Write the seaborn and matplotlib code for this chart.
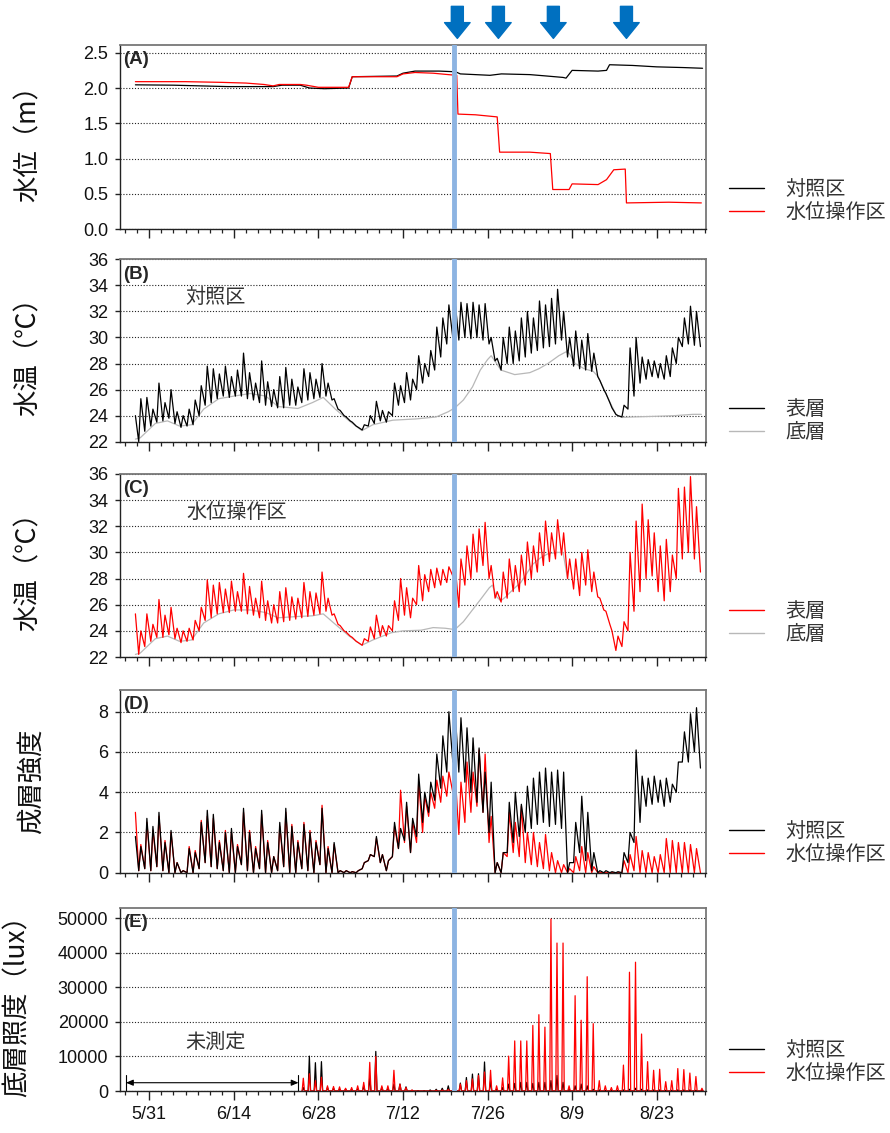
import numpy as np
import pandas as pd
import matplotlib
matplotlib.use("Agg")
import matplotlib.pyplot as plt
import matplotlib.dates as mdates
from matplotlib.lines import Line2D
from matplotlib.ticker import FuncFormatter, FormatStrFormatter
import seaborn as sns

sns.set_theme(style="white")
plt.rcParams["font.family"] = ["Liberation Sans", "Noto Sans CJK JP", "DejaVu Sans"]
CJK = ["Noto Sans CJK JP", "DejaVu Sans"]

# ---------------- data (day index 0 = 5/29) ----------------
BASE = pd.Timestamp("2021-05-29")
START_DAY = -0.3

# (A) water level, step series
A_CTRL_DAY = [-0.3, 6, 15, 22.5, 24, 27, 28.5, 31, 35.0, 35.6, 43, 44, 46, 50, 52.7, 53.5,
              58.4, 60.3, 65, 67.8, 70.5, 71.0, 72.0, 76.3, 77.7, 78.2, 82, 86, 90.4, 93.6]
A_CTRL_LVL = [2.045, 2.04, 2.02, 2.02, 2.04, 2.04, 2.0, 1.99, 2.0, 2.16, 2.17, 2.21, 2.24, 2.24,
              2.23, 2.20, 2.18, 2.20, 2.19, 2.17, 2.15, 2.14, 2.25, 2.24, 2.25, 2.33, 2.32, 2.30,
              2.29, 2.28]
A_TRT_DAY = [-0.3, 8, 14, 18, 21, 22.5, 23.5, 27, 28, 30, 35.0, 35.6, 43, 44, 46, 49, 51.5,
             52.9, 53.1, 56, 59.6, 60.0, 65, 68.4, 68.8, 70.5, 71.5, 72.0, 76.3, 77.7, 78.9,
             80.8, 81.0, 88, 93.4]
A_TRT_LVL = [2.09, 2.09, 2.08, 2.07, 2.05, 2.03, 2.05, 2.05, 2.04, 2.01, 2.01, 2.16, 2.16,
             2.20, 2.22, 2.21, 2.19, 2.18, 1.63, 1.62, 1.59, 1.09, 1.09, 1.07, 0.56, 0.56,
             0.56, 0.64, 0.63, 0.70, 0.84, 0.85, 0.37, 0.38, 0.37]

# (B) control: surface daily troughs/peaks, bottom
B_SURF_START = 24.0
B_SURF_TROUGH = [22.0, 22.8, 23.2, 23.5, 23.6, 23.8, 23.4, 23.1, 23.2, 23.3,
                 24.0, 24.8, 25.0, 25.3, 25.5, 25.4, 25.5, 25.5, 25.3, 25.2,
                 25.0, 24.8, 24.7, 24.6, 24.6, 24.8, 24.8, 25.0, 25.2, 25.3,
                 25.4, 25.5, 25.2, 24.5, 24.0, 23.6, 23.2, 22.9, 23.2, 23.4,
                 23.6, 23.5, 24.0, 24.8, 25.0, 25.2, 26.0, 26.5, 27.0, 27.5,
                 28.5, 29.5, 30.0, 29.8, 30.0, 29.9, 30.0, 29.8, 29.5, 28.2,
                 27.5, 28.0, 28.0, 28.2, 28.5, 28.8, 29.0, 29.2, 29.3, 29.5,
                 29.8, 28.5, 27.8, 27.6, 27.5, 27.4, 27.0, 26.0, 25.0, 24.1,
                 23.9, 24.5, 25.5, 26.5, 26.8, 27.0, 26.9, 26.8, 27.0, 28.0,
                 29.3, 29.5, 29.4, 29.3]
B_SURF_PEAK = [25.3, 25.4, 24.5, 26.5, 25.0, 26.0, 24.3, 24.0, 24.5, 25.2,
               26.3, 27.8, 27.6, 27.2, 27.8, 27.0, 27.5, 28.8, 27.3, 26.5,
               28.2, 26.6, 26.0, 27.0, 27.7, 26.8, 26.2, 27.6, 27.3, 26.8,
               28.0, 26.5, 25.3, 24.4, 23.9, 23.5, 23.1, 23.3, 24.0, 25.1,
               24.4, 24.3, 26.5, 26.3, 27.3, 26.8, 28.6, 28.0, 29.0, 30.8,
               31.5, 32.5, 32.9, 32.7, 32.6, 32.7, 32.5, 32.6, 30.0, 28.4,
               30.0, 30.8, 30.5, 31.5, 32.0, 31.5, 32.8, 32.5, 33.0, 33.7,
               32.0, 30.0, 30.5, 29.8, 30.3, 28.8, 26.7, 25.7, 24.6, 24.0,
               24.8, 29.2, 30.0, 28.5, 28.3, 28.2, 28.0, 28.6, 29.2, 30.0,
               31.5, 32.4, 32.0]
B_BOT_DAY = [-0.3, 0.5, 3, 5, 7, 9, 11, 13.5, 16, 18.7, 21.3, 23.3, 26.6, 29, 30.8, 32.8,
             35.1, 37.2, 39, 42.3, 46.2, 49.5, 51.5, 52.6, 54, 55.5, 56.8, 58, 58.6, 59.5,
             60.2, 62.5, 65, 66.5, 68, 69.8, 71, 71.5, 72.5, 74, 75.5, 76.3, 77.3, 78.3,
             79.3, 80.3, 82, 86, 89, 92, 93.4]
B_BOT_T = [22.2, 22.3, 23.4, 23.6, 23.2, 23.3, 24.5, 25.3, 25.5, 25.7, 25.5, 24.7, 24.55,
           25.0, 25.4, 24.5, 23.6, 22.85, 23.3, 23.65, 23.75, 23.9, 24.3, 24.6, 25.2, 26.2,
           27.5, 28.3, 28.6, 28.0, 27.5, 27.15, 27.3, 27.6, 28.0, 28.6, 28.9, 28.8, 28.0,
           27.6, 27.4, 27.0, 26.0, 25.0, 24.05, 23.86, 23.9, 23.95, 24.0, 24.1, 24.1]

# (C) water-level-managed: surface, bottom
C_SURF_START = 25.3
C_SURF_TROUGH = [22.2, 22.8, 23.2, 23.5, 23.5, 23.7, 23.4, 23.1, 23.2, 23.3,
                 24.0, 24.8, 25.0, 25.3, 25.4, 25.4, 25.5, 25.5, 25.3, 25.2,
                 25.0, 24.8, 24.6, 24.6, 24.7, 24.8, 24.9, 25.0, 25.1, 25.2,
                 25.3, 25.5, 25.2, 24.5, 24.0, 23.6, 23.2, 22.9, 23.2, 23.4,
                 23.6, 23.6, 24.0, 24.8, 25.2, 25.0, 26.0, 26.3, 27.0, 27.3,
                 27.5, 27.7, 28.2, 25.8, 27.5, 28.0, 28.5, 29.0, 28.0, 26.5,
                 26.2, 26.5, 27.0, 27.0, 27.5, 28.0, 28.5, 29.0, 29.3, 29.5,
                 29.8, 28.0, 27.2, 26.7, 27.5, 27.0, 26.6, 25.6, 24.5, 22.5,
                 22.8, 24.0, 25.5, 27.0, 28.0, 28.2, 27.0, 26.3, 27.0, 28.0,
                 29.5, 30.0, 29.5, 28.5]
C_SURF_PEAK = [24.0, 25.3, 24.5, 26.4, 25.2, 25.8, 24.2, 24.0, 24.2, 24.8,
               25.8, 27.9, 27.5, 27.7, 27.2, 27.8, 27.0, 28.4, 27.4, 26.5,
               27.8, 26.3, 26.0, 27.0, 27.3, 26.6, 26.5, 27.7, 27.0, 26.9,
               28.5, 26.5, 25.3, 24.4, 23.9, 23.5, 23.1, 23.4, 24.3, 25.2,
               24.4, 24.4, 26.3, 28.0, 27.3, 26.5, 29.0, 28.3, 28.7, 28.8,
               28.7, 28.9, 29.2, 29.5, 30.5, 31.4, 31.8, 32.3, 29.0, 27.0,
               28.5, 29.5, 29.0, 29.8, 30.8, 30.5, 31.5, 32.4, 31.5, 32.5,
               31.5, 29.5, 29.5, 30.0, 30.2, 28.5, 26.5, 25.5, 24.0, 23.6,
               24.7, 30.0, 32.4, 33.7, 32.5, 31.5, 30.5, 31.0, 29.8, 34.9,
               35.0, 35.8, 33.5]
C_BOT_DAY = [-0.3, 0.5, 3, 5, 7, 9, 11, 13.5, 16, 18.7, 21.3, 23.3, 26.6, 29, 30.8, 32.8,
             35.1, 37.2, 39, 42, 44, 47, 49, 51, 52.6, 54, 55.5, 57, 58.3, 58.8, 59.5,
             60.2, 61, 62.3, 63.5, 64.5, 65.5, 66.8, 68, 69.5, 70.5, 71.25]
C_BOT_T = [22.2, 22.3, 23.4, 23.6, 23.2, 23.3, 24.6, 25.3, 25.6, 25.6, 25.4, 25.0, 25.1,
           25.15, 25.3, 24.5, 23.6, 22.9, 23.3, 23.85, 24.0, 24.05, 24.25, 24.2, 24.1, 24.7,
           25.6, 26.5, 27.3, 27.5, 26.6, 26.3, 26.6, 27.2, 27.7, 28.4, 29.1, 29.6, 29.9,
           30.0, 30.0, 28.0]

# (D) stratification strength
D_CTRL_START = 1.8
D_CTRL_TROUGH = [0.1, 0.2, 0.1, 0.3, 0.1, 0.0, 0.0, 0.0, 0.0, 0.0,
                 0.2, 0.5, 0.3, 0.2, 0.1, 0.0, 0.0, 0.4, 0.1, 0.0,
                 0.2, 0.0, 0.0, 0.1, 0.3, 0.0, 0.0, 0.2, 0.1, 0.0,
                 0.4, 0.0, 0.0, 0.0, 0.0, 0.0, 0.0, 0.2, 0.6, 0.8,
                 0.5, 0.1, 0.8, 1.2, 1.6, 1.0, 1.8, 2.5, 3.0, 3.6,
                 4.2, 5.0, 5.5, 5.0, 4.5, 4.0, 3.5, 3.0, 2.0, 0.0,
                 0.0, 1.0, 1.5, 1.8, 2.0, 2.2, 2.4, 2.5, 2.3, 2.4,
                 2.2, 0.0, 0.5, 1.0, 0.6, 0.1, 0.0, 0.0, 0.0, 0.0,
                 0.0, 0.5, 1.5, 2.5, 3.3, 3.4, 3.5, 3.3, 3.5, 4.0,
                 5.5, 5.5, 6.0, 5.2]
D_CTRL_PEAK = [1.3, 2.7, 2.3, 3.0, 1.5, 2.1, 0.5, 0.1, 1.2, 1.0,
               2.5, 3.1, 2.9, 1.5, 2.0, 2.2, 1.3, 3.2, 2.0, 1.2,
               3.1, 1.5, 0.8, 2.5, 3.2, 2.3, 1.5, 2.4, 2.0, 1.5,
               3.2, 1.2, 1.5, 0.1, 0.1, 0.05, 0.1, 0.5, 0.9, 1.8,
               0.9, 0.6, 2.5, 2.2, 3.5, 2.7, 4.9, 4.0, 4.5, 5.9,
               6.8, 8.0, 8.2, 7.7, 7.2, 6.7, 6.2, 5.0, 4.5, 0.5,
               1.0, 3.5, 4.0, 3.4, 4.3, 4.7, 5.0, 5.2, 5.0, 5.1,
               5.0, 0.5, 2.5, 3.8, 3.0, 1.0, 0.1, 0.1, 0.05, 0.05,
               1.0, 2.0, 6.1, 4.8, 4.7, 4.8, 4.6, 4.7, 4.4, 5.5,
               7.0, 7.9, 8.2]
D_TRT_START = 3.0
D_TRT_TROUGH = [0.1, 0.2, 0.1, 0.3, 0.1, 0.0, 0.0, 0.0, 0.0, 0.0,
                0.2, 0.5, 0.3, 0.2, 0.1, 0.0, 0.0, 0.4, 0.1, 0.0,
                0.2, 0.0, 0.0, 0.1, 0.3, 0.0, 0.0, 0.2, 0.1, 0.0,
                0.4, 0.0, 0.0, 0.0, 0.0, 0.0, 0.0, 0.2, 0.6, 0.8,
                0.5, 0.1, 0.8, 1.2, 1.5, 1.0, 1.5, 2.0, 2.8, 3.2,
                3.5, 3.8, 4.0, 1.9, 2.5, 3.0, 3.3, 3.0, 1.5, 0.0,
                0.0, 0.8, 1.0, 0.8, 0.5, 0.4, 0.3, 0.2, 0.1, 0.0,
                0.0, 0.0, 0.0, 0.1, 0.0, 0.0, 0.0, 0.0, 0.0, 0.0,
                0.0, 0.0, 0.1, 0.0, 0.0, 0.0, 0.0, 0.0, 0.0, 0.0,
                0.0, 0.0, 0.0, 0.0]
D_TRT_PEAK = [1.4, 2.5, 2.1, 2.8, 1.6, 2.0, 0.5, 0.1, 1.3, 1.1,
              2.6, 2.8, 2.7, 1.6, 2.1, 2.0, 1.4, 3.0, 2.1, 1.3,
              2.9, 1.6, 0.8, 2.3, 3.0, 2.4, 1.6, 2.5, 2.1, 1.6,
              3.35, 1.3, 1.4, 0.1, 0.1, 0.05, 0.1, 0.5, 0.9, 1.7,
              0.9, 0.6, 2.3, 4.1, 3.3, 2.5, 4.5, 3.8, 4.0, 4.6,
              4.8, 5.0, 5.1, 4.5, 5.5, 5.0, 6.1, 5.9, 2.8, 0.5,
              1.0, 3.0, 2.5, 3.3, 2.0, 2.0, 1.5, 1.9, 1.0, 0.6,
              0.4, 0.2, 0.8, 1.3, 1.0, 0.3, 0.0, 0.0, 0.0, 0.0,
              0.6, 0.9, 1.8, 1.1, 1.0, 0.8, 0.9, 1.7, 1.6, 1.5,
              1.5, 1.4, 1.2]

# (E) bottom illuminance, daily midday peaks from day 27 (6/25)
E_FIRST_DAY = 27
E_TRT_PEAK = [3700, 5000, 3000, 4000, 1500, 1300, 1200, 800, 1000, 1500,
              2500, 8300, 10000, 1500, 1500, 6000, 2000, 1000, 300, 0,
              0, 0, 200, 300, 500, 1000, 2000, 3000, 3500, 4500,
              5500, 6000, 1500, 3800, 10100, 14500, 14500, 14500, 19000, 22100,
              18500, 49800, 42850, 42850, 1500, 27600, 20500, 33100, 19500, 3000,
              1500, 1000, 1500, 7500, 34400, 37300, 16500, 8500, 6000, 6300,
              2700, 3000, 6500, 6200, 5200, 4200, 800]
E_CTRL_PEAK = [1000, 10100, 8200, 8500, 1000, 800, 500, 500, 500, 700,
               1500, 4000, 11460, 1000, 800, 2000, 2000, 1200, 200, 100,
               100, 300, 500, 800, 1500, 2500, 2300, 3900, 4900, 5000,
               8400, 3000, 500, 1000, 2000, 2200, 2500, 2500, 2200, 2500,
               2500, 3000, 4500, 2500, 500, 1500, 2000, 1500, 500, 300,
               200, 200, 200, 300, 500, 800, 500, 300, 300, 300,
               200, 200, 300, 300, 300, 200, 200]

BLUE_LINE_DAY = 52.5
ARROW_DAYS = [53.0, 59.8, 68.9, 81.0]
NOT_MEASURED = (-1.85, 26.7)
MAJOR_TICK_DAYS = [2, 16, 30, 44, 58, 72, 86]
XLIM_DAYS = (-2.85, 94.17)

# ---------------- helpers ----------------
def to_time(days):
    return BASE + pd.to_timedelta(np.asarray(days, dtype=float), unit="D")

def diurnal(start_val, trough, peak):
    d, v = [START_DAY], [start_val]
    for i, tv in enumerate(trough):
        d.append(i + 0.25); v.append(tv)
        if i < len(peak):
            d.append(i + 0.6); v.append(peak[i])
    return pd.DataFrame({"time": to_time(d), "value": v})

def steps(days, vals):
    return pd.DataFrame({"time": to_time(days), "value": vals})

def spikes(first_day, peaks):
    d, v = [], []
    for k, p in enumerate(peaks):
        i = first_day + k
        d += [i + 0.3, i + 0.5, i + 0.7]
        v += [0, p, 0]
    return pd.DataFrame({"time": to_time(d), "value": v})

def line(ax, df, color, lw=0.9, z=2):
    sns.lineplot(data=df, x="time", y="value", ax=ax, color=color, linewidth=lw,
                 estimator=None, sort=False, legend=False, zorder=z)

# ---------------- figure ----------------
W, H = 890, 1133
fig = plt.figure(figsize=(W / 100, H / 100), dpi=100)
fig.patch.set_facecolor("white")
L, R = 120, 706
panels = [(45, 229), (259.3, 441.7), (474, 657), (690, 872.7), (908, 1091)]
axes = []
for top, bot in panels:
    ax = fig.add_axes([L / W, 1 - bot / H, (R - L) / W, (bot - top) / H])
    axes.append(ax)

RED, BLACK, GREY = "#ff0000", "#000000", "#b8b8b8"
BLUE = "#8db4e2"

axA, axB, axC, axD, axE = axes
line(axA, steps(A_CTRL_DAY, A_CTRL_LVL), BLACK)
line(axA, steps(A_TRT_DAY, A_TRT_LVL), RED)

line(axB, steps(B_BOT_DAY, B_BOT_T), GREY)
line(axB, diurnal(B_SURF_START, B_SURF_TROUGH, B_SURF_PEAK), BLACK)

line(axC, steps(C_BOT_DAY, C_BOT_T), GREY)
line(axC, diurnal(C_SURF_START, C_SURF_TROUGH, C_SURF_PEAK), RED)

line(axD, diurnal(D_TRT_START, D_TRT_TROUGH, D_TRT_PEAK), RED)
line(axD, diurnal(D_CTRL_START, D_CTRL_TROUGH, D_CTRL_PEAK), BLACK)

line(axE, spikes(E_FIRST_DAY, E_CTRL_PEAK), BLACK)
line(axE, spikes(E_FIRST_DAY, E_TRT_PEAK), RED)

ylims = [(0, 2.61), (22, 36), (22, 36), (0, 9.08), (0, 53000)]
yticks = [np.arange(0, 2.51, 0.5), np.arange(22, 37, 2), np.arange(22, 37, 2),
          np.arange(0, 9, 2), np.arange(0, 50001, 10000)]
ylabels = ["水位（m）", "水温（℃）", "水温（℃）", "成層強度", "底層照度（lux）"]
ylab_x = [-0.133, -0.133, -0.133, -0.128, -0.152]
letters = ["(A)", "(B)", "(C)", "(D)", "(E)"]

x0, x1 = to_time(XLIM_DAYS)
major = to_time(MAJOR_TICK_DAYS)
minor = to_time(np.arange(-2, 95, 2))

for k, ax in enumerate(axes):
    ax.set_xlim(x0, x1)
    ax.set_ylim(*ylims[k])
    ax.set_yticks(yticks[k])
    ax.set_xticks(major)
    ax.set_xticks(minor, minor=True)
    ax.set_xlabel("")
    ax.set_ylabel(ylabels[k], fontsize=19, family=CJK, color="#111111")
    ax.yaxis.set_label_coords(ylab_x[k], 0.5)
    ax.yaxis.grid(True, linestyle=(0, (1, 1.6)), color="#222222", linewidth=0.8)
    ax.xaxis.grid(False)
    ax.set_axisbelow(True)
    for s in ["left", "bottom"]:
        ax.spines[s].set_color("#222222"); ax.spines[s].set_linewidth(1.0)
    for s in ["top", "right"]:
        ax.spines[s].set_color("#777777"); ax.spines[s].set_linewidth(1.3)
    ax.tick_params(axis="x", which="major", length=6.5, width=1.0, direction="out",
                   bottom=True, color="#222222", labelsize=13, pad=4, labelcolor="#111111")
    ax.tick_params(axis="x", which="minor", length=3.0, width=0.9, direction="out",
                   bottom=True, color="#222222")
    ax.tick_params(axis="y", which="major", length=3.5, width=1.0, direction="out",
                   left=True, color="#222222", labelsize=13, pad=5, labelcolor="#111111")
    if k < 4:
        ax.tick_params(axis="x", labelbottom=False)
    ax.axvline(to_time([BLUE_LINE_DAY])[0], color=BLUE, linewidth=3.5, zorder=5)
    ax.text(0.006, 0.965, letters[k], transform=ax.transAxes, ha="left", va="top",
            fontsize=13.5, fontweight="bold", zorder=6)

axA.yaxis.set_major_formatter(FormatStrFormatter("%.1f"))
axE.xaxis.set_major_formatter(FuncFormatter(
    lambda v, p: f"{mdates.num2date(v).month}/{mdates.num2date(v).day}"))

# arrows above panel A
for d in ARROW_DAYS:
    xd = mdates.date2num(to_time([d])[0])
    axA.annotate("", xy=(xd, 1.036), xytext=(xd, 1.21),
                 xycoords=("data", "axes fraction"), textcoords=("data", "axes fraction"),
                 arrowprops=dict(arrowstyle="simple,head_length=0.42,head_width=0.68,tail_width=0.32",
                                 color="#0070c0", shrinkA=0, shrinkB=0, mutation_scale=27),
                 annotation_clip=False)

# in-panel texts
TXT = dict(family=CJK, fontsize=14.5, color="#333333", ha="center", va="center")
axB.text(to_time([12.9])[0], 33.07, "対照区", **TXT)
axC.text(to_time([16.5])[0], 33.05, "水位操作区", **TXT)
axE.text(to_time([12.9])[0], 14000, "未測定", **TXT)

# 未測定 bracket
a0, a1 = to_time(NOT_MEASURED)
axE.annotate("", xy=(mdates.date2num(a0), 2400), xytext=(mdates.date2num(a1), 2400),
             arrowprops=dict(arrowstyle="<|-|>,head_length=0.35,head_width=0.15",
                             color="black", lw=0.8, shrinkA=0, shrinkB=0))
for a in (a0, a1):
    axE.plot([a, a], [0, 4600], color="black", lw=0.8)

# legends
def legend(ax, items, y):
    handles = [Line2D([], [], color=c, lw=1.0) for c, _ in items]
    lg = ax.legend(handles, [t for _, t in items], loc="center left",
                   bbox_to_anchor=(1.04, y), frameon=False, borderaxespad=0, borderpad=0,
                   handlelength=1.7, handletextpad=1.1, labelspacing=0.1,
                   prop=dict(family=CJK, size=14.5))
    for t in lg.get_texts():
        t.set_color("#333333")

legend(axA, [(BLACK, "対照区"), (RED, "水位操作区")], 0.15)
legend(axB, [(BLACK, "表層"), (GREY, "底層")], 0.113)
legend(axC, [(RED, "表層"), (GREY, "底層")], 0.186)
legend(axD, [(BLACK, "対照区"), (RED, "水位操作区")], 0.16)
legend(axE, [(BLACK, "対照区"), (RED, "水位操作区")], 0.16)

fig.savefig("out.png", dpi=100, facecolor="white")
